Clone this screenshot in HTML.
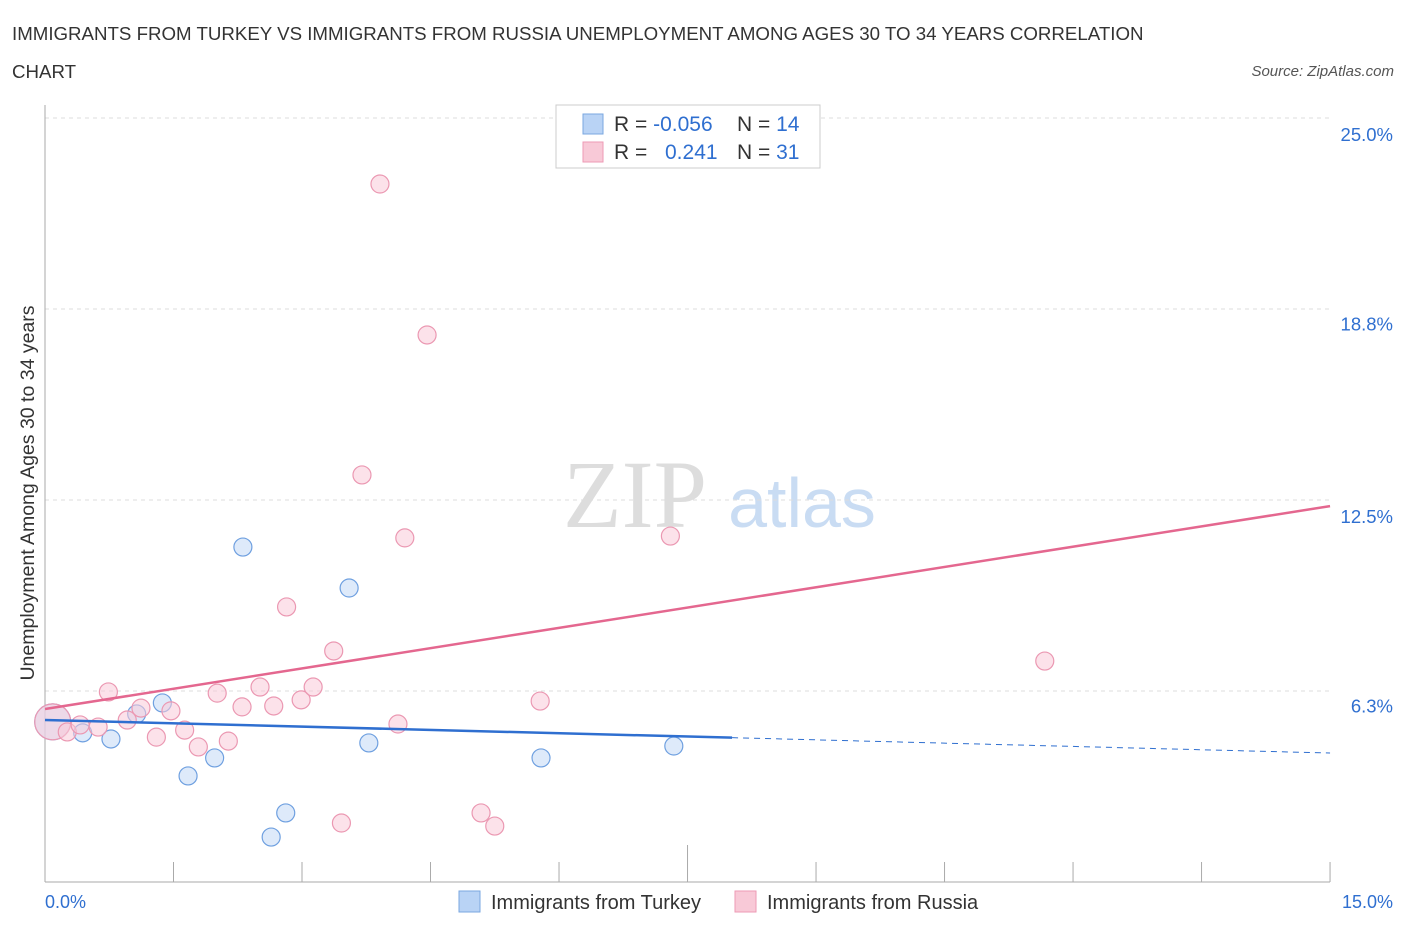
<!DOCTYPE html>
<html><head><meta charset="utf-8"><style>
body{margin:0;background:#fff;font-family:"Liberation Sans",sans-serif;}
</style></head><body>
<svg width="1406" height="930" id="c" font-family="Liberation Sans, sans-serif">
<text x="12" y="40" font-size="18.7" fill="#333">IMMIGRANTS FROM TURKEY VS IMMIGRANTS FROM RUSSIA UNEMPLOYMENT AMONG AGES 30 TO 34 YEARS CORRELATION</text>
<text x="12" y="78" font-size="18.7" fill="#333">CHART</text>
<text x="1394" y="76" font-size="15" fill="#555" font-style="italic" text-anchor="end">Source: ZipAtlas.com</text>
<text x="635" y="527" font-size="96" fill="#ddd" style="font-family:'Liberation Serif',serif" text-anchor="middle">ZIP</text>
<text x="802" y="527" font-size="70" fill="#c9dcf3" text-anchor="middle">atlas</text>
<text transform="translate(34,493) rotate(-90)" font-size="19.5" fill="#333" text-anchor="middle">Unemployment Among Ages 30 to 34 years</text>
<g id="grid"></g><g id="marks"></g>
<g>
<rect x="556" y="105" width="264" height="63" fill="#fff" stroke="#ccc"/>
<rect x="583" y="114" width="20" height="20" fill="#b9d3f5" stroke="#7aa7e0"/>
<rect x="583" y="142" width="20" height="20" fill="#f8c9d7" stroke="#ee9ab4"/>
<text x="614" y="131" font-size="21" fill="#333">R = <tspan fill="#2f6fd0">-0.056</tspan><tspan x="737">N = </tspan><tspan fill="#2f6fd0">14</tspan></text>
<text x="614" y="159" font-size="21" fill="#333">R = <tspan x="665" fill="#2f6fd0">0.241</tspan><tspan x="737">N = </tspan><tspan fill="#2f6fd0">31</tspan></text>
</g>
<g>
<rect x="459" y="891" width="21" height="21" fill="#b9d3f5" stroke="#7aa7e0"/>
<text x="491" y="909" font-size="20" fill="#333">Immigrants from Turkey</text>
<rect x="735" y="891" width="21" height="21" fill="#f8c9d7" stroke="#ee9ab4"/>
<text x="767" y="909" font-size="20" fill="#333">Immigrants from Russia</text>
</g>
<text x="45" y="908" font-size="18" fill="#2f6fd0">0.0%</text>
<text x="1393" y="908" font-size="18" fill="#2f6fd0" text-anchor="end">15.0%</text>
</svg>
<script>
const yTicks=[25.0,18.8,12.5,6.3];
const yTickLabels=["25.0%","18.8%","12.5%","6.3%"];
const turkeyX=[0.09,0.44,0.77,1.07,1.37,1.67,1.98,2.31,2.64,2.81,3.55,3.78,5.79,7.34];
const turkeyY=[5.24,4.88,4.68,5.50,5.86,3.47,4.06,10.96,1.47,2.26,9.62,4.55,4.06,4.45];
const russiaX=[0.09,0.26,0.41,0.62,0.74,0.96,1.12,1.30,1.47,1.63,1.79,2.01,2.14,2.30,2.51,2.67,2.82,2.99,3.13,3.37,3.46,3.70,3.91,4.12,4.20,4.46,5.09,5.25,5.78,7.30,11.67];
const russiaY=[5.24,4.91,5.14,5.07,6.22,5.30,5.69,4.74,5.60,4.97,4.42,6.18,4.61,5.73,6.38,5.76,9.00,5.96,6.38,7.56,1.93,13.32,22.84,5.17,11.26,17.90,2.26,1.83,5.92,11.32,7.23];
const turkeyTrend=[5.30,4.22]; const russiaTrend=[5.66,12.30];
const X=v=>45+v*85.67, Y=v=>882-v*30.56;
const NS="http://www.w3.org/2000/svg";
function mk(p,t,a){const e=document.createElementNS(NS,t);for(const k in a)e.setAttribute(k,a[k]);p.appendChild(e);return e;}
const g=document.getElementById('grid'), m=document.getElementById('marks');
yTicks.forEach((v,i)=>{
 const gv=v===6.3?6.25:v===18.8?18.75:v;
 const l=mk(g,'line',{x1:45,x2:1330,y1:Y(gv),y2:Y(gv),stroke:'#ddd','stroke-dasharray':'4,4'});
 
 
 const t=mk(g,'text',{x:1393,y:Y(v)+23,'font-size':18.5,fill:'#2f6fd0','text-anchor':'end'});t.textContent=yTickLabels[i];
 
 
});
const ax=mk(g,'line',{x1:45,x2:45,y1:105,y2:882,stroke:'#aaa'});


const bx=mk(g,'line',{x1:45,x2:1330,y1:882,y2:882,stroke:'#aaa'});


for(let i=1;i<=10;i++){const x=X(i*1.5);const t=mk(g,'line',{x1:x,x2:x,y1:i==5?845:862,y2:882,stroke:'#aaa'});
 
 }
function pts(xs,ys,fill,stroke,name){xs.forEach((x,i)=>{const big=i==0;const c=mk(m,'circle',{cx:X(x),cy:Y(ys[i]),r:big?18:9,fill:fill,'fill-opacity':0.55,stroke:stroke,'stroke-width':1.2});
 
 });}
pts(turkeyX,turkeyY,'#c3d9f6','#6fa0e0','turkey-point');
pts(russiaX,russiaY,'#f9cbd8','#eb98b2','russia-point');
const split=8.02, ts=(turkeyTrend[1]-turkeyTrend[0])/15;
const l1=mk(m,'line',{x1:X(0),y1:Y(turkeyTrend[0]),x2:X(split),y2:Y(turkeyTrend[0]+ts*split),stroke:'#2f6fd0','stroke-width':2.5});


const l2=mk(m,'line',{x1:X(split),y1:Y(turkeyTrend[0]+ts*split),x2:X(15),y2:Y(turkeyTrend[1]),stroke:'#2f6fd0','stroke-width':1,'stroke-dasharray':'6,5'});


const l3=mk(m,'line',{x1:X(0),y1:Y(russiaTrend[0]),x2:X(15),y2:Y(russiaTrend[1]),stroke:'#e4678f','stroke-width':2.5});


</script>
</body></html>
